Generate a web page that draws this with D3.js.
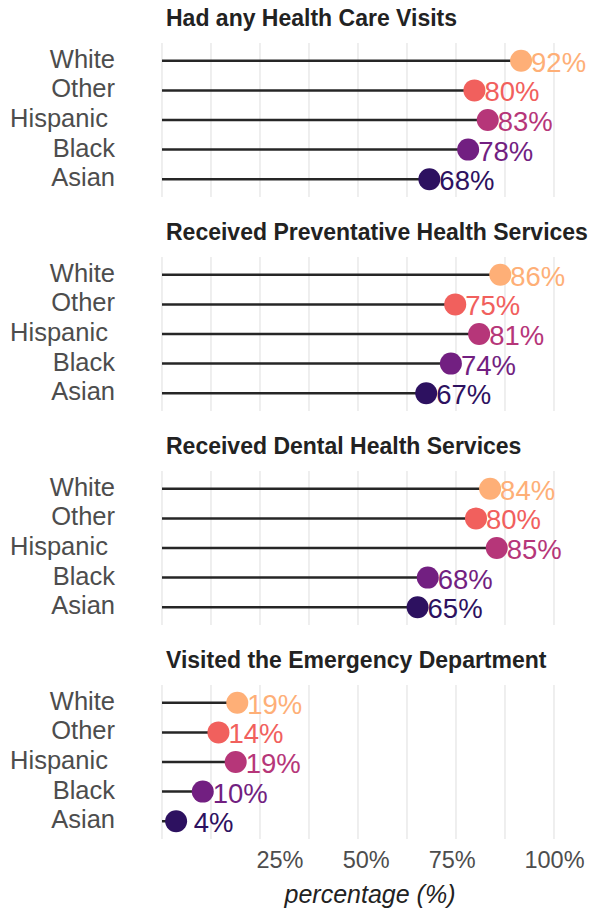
<!DOCTYPE html>
<html>
<head>
<meta charset="utf-8">
<script src="https://cdn.jsdelivr.net/npm/d3@7"></script>
<style>
  body { margin: 0; background: #fff; }
  svg { font-family: "Liberation Sans", Arial, sans-serif; }
  text { white-space: pre; }
</style>
</head>
<body>
<div id="chart"></div>
<script>
// categories, top to bottom
const races = ["White", "Other", "Hispanic", "Black", "Asian"];
const raceLabels = ["White", "Other", "Hispanic ", "Black", "Asian"];
const raceColors = ["#FEAF77", "#F1605D", "#B63679", "#721F81", "#2D1160"];

const panelTitles = [
  "Had any Health Care Visits",
  "Received Preventative Health Services",
  "Received Dental Health Services",
  "Visited the Emergency Department"
];

// percentages per race (same order as races)
const careVisits = [91.6, 79.7, 83.1, 78.1, 68.2];
const preventive = [86.3, 74.8, 80.9, 73.7, 67.4];
const dental     = [83.7, 80.1, 85.4, 67.8, 65.2];
const emergency  = [19.2, 14.4, 18.8, 10.4, 3.6];

const xTicks = [25, 50, 75, 100];
const xTickLabels = ["25%", "50%", "75%", "100%"];

const panels = [careVisits, preventive, dental, emergency];

const width = 591, height = 911;
const panelTop = 43, panelStep = 214, panelH = 154;
// the reference's bottom labels sit a bit off their breaks
const tickNudge = [19.5, 7.7, -4.3, 0];

const svg = d3.select('#chart').append('svg')
  .attr('width', width)
  .attr('height', height);

const x = d3.scaleLinear()
  .domain([0, 100])
  .range([162, 554]);

const fmt = v => String(Math.round(v)).padStart(2, ' ') + '%';

panels.forEach((vals, i) => {
  const top = panelTop + i * panelStep;
  const y = d3.scalePoint()
    .domain(races)
    .range([top, top + panelH])
    .padding(0.6);

  const g = svg.append('g').attr('class', 'panel');

  // grid (major + minor, same look)
  g.selectAll('.grid').data(d3.range(0, 100.01, 12.5))
    .enter().append('line')
    .attr('x1', d => x(d)).attr('x2', d => x(d))
    .attr('y1', top).attr('y2', top + panelH)
    .attr('stroke', '#e1e1e1')
    .attr('stroke-width', 1.1);

  g.append('text')
    .attr('x', 166)
    .attr('y', top - 17)
    .attr('font-size', 23)
    .attr('font-weight', 'bold')
    .attr('fill', '#222')
    .text(panelTitles[i]);

  // y labels
  g.selectAll('.ylab').data(races)
    .enter().append('text')
    .attr('x', 115)
    .attr('y', d => y(d))
    .attr('dy', '0.27em')
    .attr('text-anchor', 'end')
    .attr('font-size', 25.5)
    .attr('fill', '#4d4d4d')
    .text((d, j) => raceLabels[j]);

  const rows = races.map((r, j) => ({ race: r, value: vals[j], color: raceColors[j] }));

  g.selectAll('.seg').data(rows)
    .enter().append('line')
    .attr('x1', x(0))
    .attr('x2', d => x(d.value))
    .attr('y1', d => y(d.race))
    .attr('y2', d => y(d.race))
    .attr('stroke', '#262626')
    .attr('stroke-width', 2.5);

  g.selectAll('.dot').data(rows)
    .enter().append('circle')
    .attr('cx', d => x(d.value))
    .attr('cy', d => y(d.race))
    .attr('r', 11)
    .attr('fill', d => d.color);

  g.selectAll('.val').data(rows)
    .enter().append('text')
    .attr('x', d => x(d.value) + 10)
    .attr('y', d => y(d.race))
    .attr('dy', '0.4em')
    .attr('font-size', 27.5)
    .attr('fill', d => d.color)
    .text(d => fmt(d.value));
});

// bottom axis
const axis = svg.append('g')
  .attr('transform', 'translate(0,' + (panelTop + 3 * panelStep + panelH) + ')')
  .call(d3.axisBottom(x).tickValues(xTicks).tickSize(0)
    .tickFormat((d, j) => xTickLabels[j]));
axis.select('.domain').remove();
axis.selectAll('text')
  .attr('font-family', '"Liberation Sans", Arial, sans-serif')
  .attr('font-size', 23.5)
  .attr('fill', '#4d4d4d')
  .attr('dx', (d, j) => tickNudge[j])
  .attr('y', 29)
  .attr('dy', 0);

svg.append('text')
  .attr('x', 370)
  .attr('y', 903)
  .attr('text-anchor', 'middle')
  .attr('font-size', 25)
  .attr('font-style', 'italic')
  .attr('fill', '#222')
  .text('percentage (%)');
</script>
</body>
</html>
